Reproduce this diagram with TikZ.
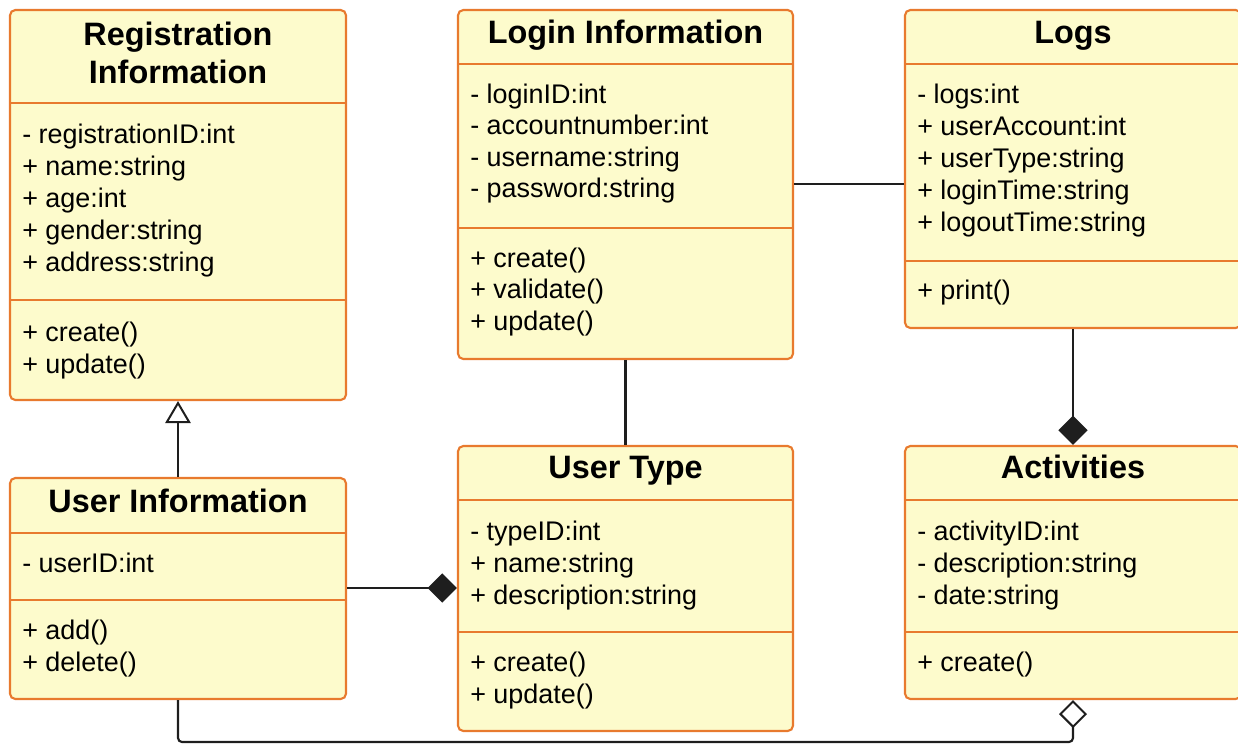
\documentclass[tikz,border=0pt]{standalone}
\usepackage{fontspec}
\setmainfont{Liberation Sans}
\usetikzlibrary{arrows.meta,fit}
\definecolor{boxfill}{RGB}{253,251,204}
\definecolor{boxline}{RGB}{232,122,46}
\definecolor{connline}{RGB}{30,30,30}
\begin{document}
\begin{tikzpicture}[x=0.75pt,y=-0.75pt,
  umlbox/.style={draw=boxline, fill=boxfill, line width=1.6pt, rounded corners=4pt, inner sep=0pt},
  divider/.style={draw=boxline, line width=1.6pt},
  ttl/.style={font=\fontsize{24.3pt}{29pt}\selectfont\bfseries, anchor=base, inner sep=0pt},
  item/.style={font=\fontsize{20.2pt}{24pt}\selectfont, anchor=base west, inner sep=0pt},
  conn/.style={draw=connline, line width=1.6pt},
  filleddiamond/.style={-{Diamond[length=22pt,width=22pt]}},
  opendiamond/.style={-{Diamond[open,length=21pt,width=21pt,line width=1.5pt]}},
  inherit/.style={-{Triangle[open,length=16.5pt,width=19pt,line width=1.5pt]}},
]
\useasboundingbox (0,0) rectangle (1238,744);

% ---------- Registration Information ----------
\node[umlbox, fit={(10,10) (346,400)}] (reg) {};
\draw[divider] (10,103) -- (346,103);
\draw[divider] (10,300) -- (346,300);
\node[ttl] (reg-t1) at (178,45) {Registration};
\node[ttl] (reg-t2) at (178,83) {Information};
\foreach \t [count=\i] in {- registrationID:int, + name:string, + age:int, + gender:string, + address:string}
  \node[item] (reg-a\i) at (22,{143+32*(\i-1)}) {\t};
\foreach \t [count=\i] in {+ create(), + update()}
  \node[item] (reg-m\i) at (22,{341+32*(\i-1)}) {\t};

% ---------- Login Information ----------
\node[umlbox, fit={(458,10) (793,359)}] (login) {};
\draw[divider] (458,64) -- (793,64);
\draw[divider] (458,228) -- (793,228);
\node[ttl] (login-t) at (625.5,43) {Login Information};
\foreach \t [count=\i] in {- loginID:int, - accountnumber:int, - username:string, - password:string}
  \node[item] (login-a\i) at (470,{103+31.5*(\i-1)}) {\t};
\foreach \t [count=\i] in {+ create(), + validate(), + update()}
  \node[item] (login-m\i) at (470,{267+31.5*(\i-1)}) {\t};

% ---------- Logs ----------
\node[umlbox, fit={(905,10) (1241,328)}] (logs) {};
\draw[divider] (905,64) -- (1241,64);
\draw[divider] (905,261) -- (1241,261);
\node[ttl] (logs-t) at (1073,43) {Logs};
\foreach \t [count=\i] in {- logs:int, + userAccount:int, + userType:string, + loginTime:string, + logoutTime:string}
  \node[item] (logs-a\i) at (917,{103+32*(\i-1)}) {\t};
\node[item] (logs-m1) at (917,299) {+ print()};

% ---------- User Information ----------
\node[umlbox, fit={(10,478) (346,699)}] (uinfo) {};
\draw[divider] (10,533) -- (346,533);
\draw[divider] (10,600) -- (346,600);
\node[ttl] (uinfo-t) at (178,512) {User Information};
\node[item] (uinfo-a1) at (22,572) {- userID:int};
\foreach \t [count=\i] in {+ add(), + delete()}
  \node[item] (uinfo-m\i) at (22,{639+32*(\i-1)}) {\t};

% ---------- User Type ----------
\node[umlbox, fit={(458,446) (793,731)}] (utype) {};
\draw[divider] (458,500) -- (793,500);
\draw[divider] (458,632) -- (793,632);
\node[ttl] (utype-t) at (625.5,478) {User Type};
\foreach \t [count=\i] in {- typeID:int, + name:string, + description:string}
  \node[item] (utype-a\i) at (470,{540+32*(\i-1)}) {\t};
\foreach \t [count=\i] in {+ create(), + update()}
  \node[item] (utype-m\i) at (470,{671+32*(\i-1)}) {\t};

% ---------- Activities ----------
\node[umlbox, fit={(905,446) (1241,699)}] (act) {};
\draw[divider] (905,500) -- (1241,500);
\draw[divider] (905,632) -- (1241,632);
\node[ttl] (act-t) at (1073,478) {Activities};
\foreach \t [count=\i] in {- activityID:int, - description:string, - date:string}
  \node[item] (act-a\i) at (917,{540+32*(\i-1)}) {\t};
\node[item] (act-m1) at (917,671) {+ create()};

% ---------- Connectors ----------
\draw[conn] (login.east |- 0,184) -- (logs.west |- 0,184);
\draw[conn] (login.south) -- (utype.north);
\draw[conn, filleddiamond] (logs.south) -- (act.north);
\draw[conn, inherit] (uinfo.north) -- (reg.south);
\draw[conn, filleddiamond] (uinfo.east |- 0,588) -- (utype.west |- 0,588);
\coordinate (bl) at (178,742);
\coordinate (br) at (1073,742);
\draw[conn, opendiamond, rounded corners=3pt] (uinfo.south) -- (bl) -- (br) -- (act.south);
\end{tikzpicture}
\end{document}
